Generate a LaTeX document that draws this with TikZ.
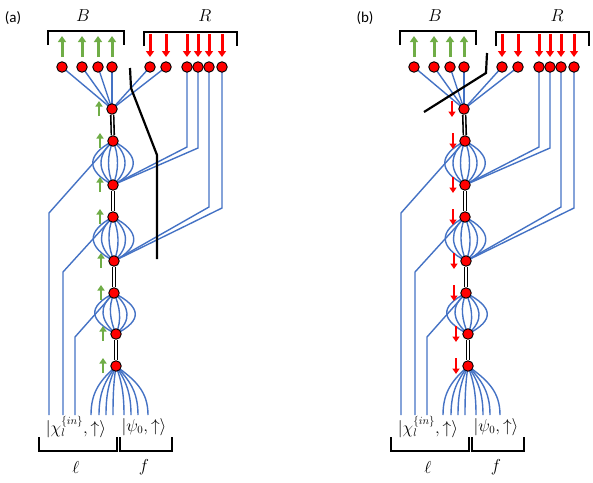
\documentclass[tikz,border=0pt]{standalone}
\usepackage{fontspec}
\newfontfamily\calib{Carlito}
\usetikzlibrary{arrows.meta,backgrounds}
\definecolor{wblue}{HTML}{4472C4}
\definecolor{agreen}{HTML}{70AD47}
\definecolor{ared}{HTML}{FF0000}
\tikzset{
 wire/.style={draw=wblue, line width=1.4pt},
 site/.style={circle, fill=red, draw=black, line width=0.9pt, minimum size=10.5pt, inner sep=0pt},
 bond/.style={draw=black, line width=1.6pt, double=white, double distance=1.3pt},
 bigup/.style={draw=agreen, line width=3pt, -{Triangle[width=8pt,length=6pt]}},
 bigdn/.style={draw=ared, line width=3pt, -{Triangle[width=8pt,length=6pt]}},
 smup/.style={draw=agreen, line width=2.4pt, -{Triangle[width=7pt,length=5.5pt]}},
 smdn/.style={draw=ared, line width=2.4pt, -{Triangle[width=7pt,length=5.5pt]}},
 brk/.style={draw=black, line width=1.4pt},
 cutline/.style={draw=black, line width=2.2pt},
 lbl/.style={font=\fontsize{16}{19}\selectfont, inner sep=0pt},
 hlbl/.style={font=\fontsize{16}{19}\selectfont, inner sep=0pt},
 tag/.style={font=\calib\fontsize{15}{18}\selectfont, inner sep=0pt},
}
\newcommand\panelbase{%
 \foreach \n/\x in {1/62,2/82,3/98,4/112,5/150,6/166,7/187,8/198,9/209,10/222}{\node[site] (T\n) at (\x,67) {};}
 \foreach \n/\x/\y in {1/112/109,2/113/141,3/113/185,4/113/217,5/114/261,6/114/293,7/116/334,8/116/366}{\node[site] (N\n) at (\x,\y) {};}
 \coordinate (R7) at (187,147);
 \coordinate (R8) at (198,148);
 \coordinate (R9) at (209,207);
 \coordinate (R10) at (222,208);
 \coordinate (L1) at (49,213);
 \coordinate (L2) at (63,272);
 \coordinate (L3) at (75,337);
 \coordinate (E1) at (49,415);
 \coordinate (E2) at (63,415);
 \coordinate (E3) at (75,415);
 \begin{scope}[on background layer]
  \foreach \n in {1,...,6} \draw[wire] (N1.center) -- (T\n.center);
  \draw[wire] (T7.center) -- (R7) -- (N3.center);
  \draw[wire] (T8.center) -- (R8) -- (N3.center);
  \draw[wire] (T9.center) -- (R9) -- (N5.center);
  \draw[wire] (T10.center) -- (R10) -- (N5.center);
  \draw[wire] (N2.center) -- (L1) -- (E1);
  \draw[wire] (N4.center) -- (L2) -- (E2);
  \draw[wire] (N6.center) -- (L3) -- (E3);
  \foreach \a/\b in {2/3,4/5,6/7}
   \foreach \d in {-27,-16,-6,6,16,27}
    \draw[wire] (N\a.center) .. controls +(\d,14) and +(\d,-14) .. (N\b.center);
  \foreach \n/\x/\c in {1/91/-15,2/99/-10,3/106/-6,4/113/-2,5/124/5,6/131/9,7/138/13,8/148/19}{
   \coordinate (F\n) at (\x,415);
   \draw[wire] (N8.center) .. controls +(\c,14) and +(0,-24) .. (F\n);}
 \end{scope}
 \foreach \a/\b in {1/2,3/4,5/6,7/8} \draw[bond] (N\a) -- (N\b);
 \foreach \n/\x in {1/62,2/82,3/98,4/112}{
  \coordinate (ua\n) at (\x,57); \coordinate (ub\n) at (\x,36);
  \draw[bigup] (ua\n) -- (ub\n);}
 \foreach \n/\x in {5/150,6/166,7/187,8/198,9/209,10/222}{
  \coordinate (ua\n) at (\x,34); \coordinate (ub\n) at (\x,57);
  \draw[bigdn] (ua\n) -- (ub\n);}
 \coordinate (bB1) at (48,45); \coordinate (bB2) at (48,31);
 \coordinate (bB3) at (124,31); \coordinate (bB4) at (124,45);
 \draw[brk] (bB1) -- (bB2) -- (bB3) -- (bB4);
 \coordinate (bR1) at (144,46); \coordinate (bR2) at (144,32);
 \coordinate (bR3) at (237,32); \coordinate (bR4) at (237,46);
 \draw[brk] (bR1) -- (bR2) -- (bR3) -- (bR4);
 \coordinate (bl1) at (39,437); \coordinate (bl2) at (39,451);
 \coordinate (bl3) at (117,451); \coordinate (bl4) at (117,437);
 \draw[brk] (bl1) -- (bl2) -- (bl3) -- (bl4);
 \coordinate (bf1) at (120,437); \coordinate (bf2) at (120,451);
 \coordinate (bf3) at (172,451); \coordinate (bf4) at (172,437);
 \draw[brk] (bf1) -- (bf2) -- (bf3) -- (bf4);
 \node[hlbl] (labB) at (83,16) {$B$};
 \node[hlbl] (labR) at (205,16) {$R$};
 \node[lbl] (chi) at (76,427) {$|\chi_l^{\{in\}},\uparrow\rangle$};
 \node[lbl] (psi) at (144,427) {$|\psi_0,\uparrow\rangle$};
 \node[hlbl] (ell) at (76,467) {$\ell$};
 \node[hlbl] (fl) at (144,467) {$f$};
}
\begin{document}
\begin{tikzpicture}[x=1pt,y=-1pt]
\path[use as bounding box] (0,0) rectangle (593,482);
\begin{scope}[name prefix=a-]
 \panelbase
 \foreach \n/\x/\y in {1/112/109,2/113/141,3/113/185,4/113/217,5/114/261,6/114/293,7/116/334,8/116/366}{
  \coordinate (ca\n) at (\x-13,\y+7); \coordinate (cb\n) at (\x-13,\y-8);
  \draw[smup] (ca\n) -- (cb\n);}
 \coordinate (k1) at (130,68); \coordinate (k2) at (131,88);
 \coordinate (k3) at (157,155); \coordinate (k4) at (157,259);
 \draw[cutline] (k1) -- (k2) -- (k3) -- (k4);
 \node[tag] (tg) at (13,18) {(a)};
\end{scope}
\begin{scope}[name prefix=b-, xshift=352pt]
 \panelbase
 \foreach \n/\x/\y in {1/112/109,2/113/141,3/113/185,4/113/217,5/114/261,6/114/293,7/116/334,8/116/366}{
  \coordinate (ca\n) at (\x-12,\y-8); \coordinate (cb\n) at (\x-12,\y+8);
  \draw[smdn] (ca\n) -- (cb\n);}
 \coordinate (k1) at (135,53); \coordinate (k2) at (134,73);
 \coordinate (k3) at (72,112);
 \draw[cutline] (k1) -- (k2) -- (k3);
 \node[tag] (tg) at (13,18) {(b)};
\end{scope}
\end{tikzpicture}
\end{document}
